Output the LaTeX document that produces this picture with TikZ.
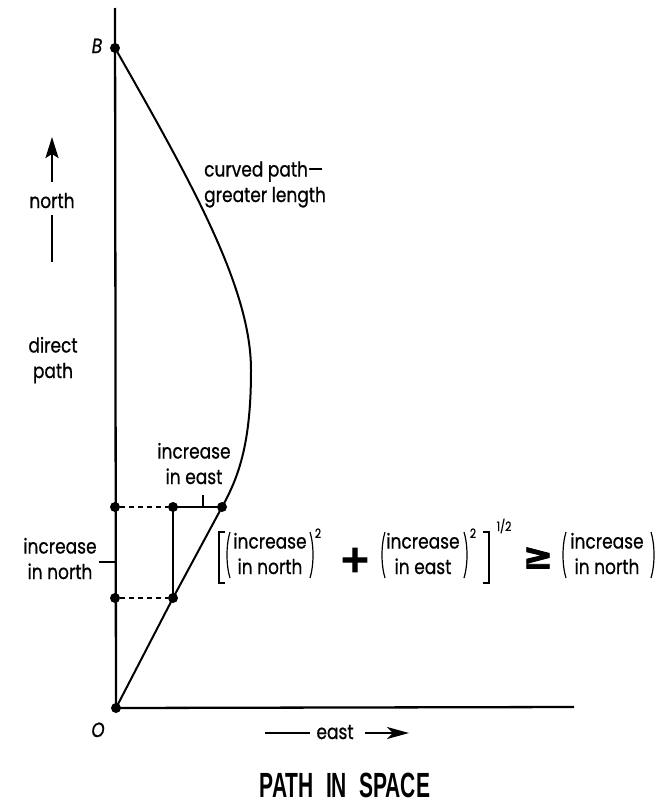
\documentclass[tikz,border=0pt]{standalone}
\usepackage{fontspec}
\setmainfont[FakeStretch=0.83,FakeBold=0.7]{Poppins}
\newfontfamily\heavysym[FakeBold=2.5]{DejaVu Sans Bold}
\newfontfamily\condfont[FakeStretch=0.6]{Liberation Sans Bold}
\usetikzlibrary{arrows.meta}
\begin{document}
\begin{tikzpicture}[x=1pt,y=-1pt,
  axis/.style={line width=2.3pt},
  pathline/.style={line width=2pt},
  thinline/.style={line width=1.1pt},
  dashline/.style={line width=1.3pt,dash pattern=on 5pt off 4pt},
  dot/.style={circle,fill=black,inner sep=0pt,minimum size=10pt},
  lbl/.style={font=\fontsize{20.5}{25.5}\selectfont,align=center,inner sep=0pt},
  sup/.style={font=\fontsize{13}{13}\selectfont,inner sep=0pt,anchor=base},
  paren/.style={line width=1.2pt},
  brack/.style={line width=2.4pt},
  arr/.style={line width=2.5pt},
]
\useasboundingbox (0,0) rectangle (663,803);
% axes and points
\coordinate (ytop) at (115,8);
\coordinate (xend) at (574,707);
\node[dot] (B) at (115,48) {};
\node[dot] (O) at (116,708) {};
\node[dot] (N1) at (115,507) {};
\node[dot] (P1) at (173,507) {};
\node[dot] (Q1) at (222,507) {};
\node[dot] (N2) at (115,598) {};
\node[dot] (P2) at (173,598) {};
\draw[axis] (ytop) -- (O.center) -- (xend);
% curved path
\draw[pathline] (B.center) .. controls (195,188) and (251,290) .. (251,370)
  .. controls (251,440) and (240,475) .. (Q1.center) -- (P2.center) -- (O.center);
\draw[dashline] (N1) -- (P1);
\draw[dashline] (N2) -- (P2);
\draw[thinline] (P1.center) -- (Q1.center);
\draw[thinline] (P1.center) -- (P2.center);
% labels
\node[lbl,anchor=base] (Bl) at (97,53) {\itshape B};
\node[lbl,anchor=base] (Ol) at (98,737) {\itshape O};
\node[lbl,anchor=base] (northl) at (52,208) {north};
\coordinate (na1) at (52,182);
\coordinate (na2) at (52,137);
\draw[arr,-{Stealth[length=21pt,width=13pt,inset=4pt]}] (na1) -- (na2);
\coordinate (nb1) at (52,215);
\coordinate (nb2) at (52,262);
\draw[arr] (nb1) -- (nb2);
\node[lbl,anchor=base] (direct) at (53,378) {direct\\path};
\node[lbl,anchor=base west,align=left] (curved) at (204,202) {curved path—\\greater length};
\node[lbl,anchor=base] (incE) at (194,484) {increase\\in east};
\coordinate (te) at (203,507);
\draw[thinline] (te) -- ++(0,-12);
\node[lbl,anchor=base] (incN) at (60,579) {increase\\in north};
\coordinate (tn) at (115,562);
\draw[thinline] (tn) -- ++(-16,0);
% east arrow
\coordinate (ea1) at (265,733);
\coordinate (ea2) at (310,733);
\coordinate (eb1) at (365,733);
\coordinate (eb2) at (409,733);
\draw[arr] (ea1) -- (ea2);
\node[lbl,anchor=base] (eastl) at (335,739) {east};
\draw[arr,-{Stealth[length=22pt,width=12pt,inset=6pt]}] (eb1) -- (eb2);
% equation
\draw[brack] (225,532) -- (219,532) -- (219,583) -- (225,583);
\draw[paren] (230,532) .. controls (226,545) and (226,565) .. (230,578);
\node[lbl,anchor=base] (t1) at (270,574) {increase\\in north};
\draw[paren] (310,532) .. controls (314,545) and (314,565) .. (310,578);
\node[sup] (s1) at (318,538) {2};
\node[inner sep=0pt,font=\heavysym\fontsize{38}{38}\selectfont] (plus) at (355,560) {+};
\draw[paren] (385,532) .. controls (381,545) and (381,565) .. (385,578);
\node[lbl,anchor=base] (t2) at (423,574) {increase\\in east};
\draw[paren] (464,532) .. controls (468,545) and (468,565) .. (464,578);
\node[sup] (s2) at (473,538) {2};
\draw[brack] (483,532) -- (489,532) -- (489,583) -- (483,583);
\node[sup] (s3) at (504,531) {1/2};
\node[inner sep=0pt,font=\heavysym\fontsize{36}{36}\selectfont] (geq) at (538,558) {≥};
\draw[paren] (566,532) .. controls (562,545) and (562,565) .. (566,578);
\node[lbl,anchor=base] (t3) at (607,574) {increase\\in north};
\draw[paren] (651,532) .. controls (655,545) and (655,565) .. (651,578);
% title
\node[inner sep=0pt,anchor=base,font=\condfont\fontsize{35}{35}\selectfont] (title) at (345,797) {PATH\hspace{0.35em}IN\hspace{0.35em}SPACE};
\end{tikzpicture}
\end{document}
